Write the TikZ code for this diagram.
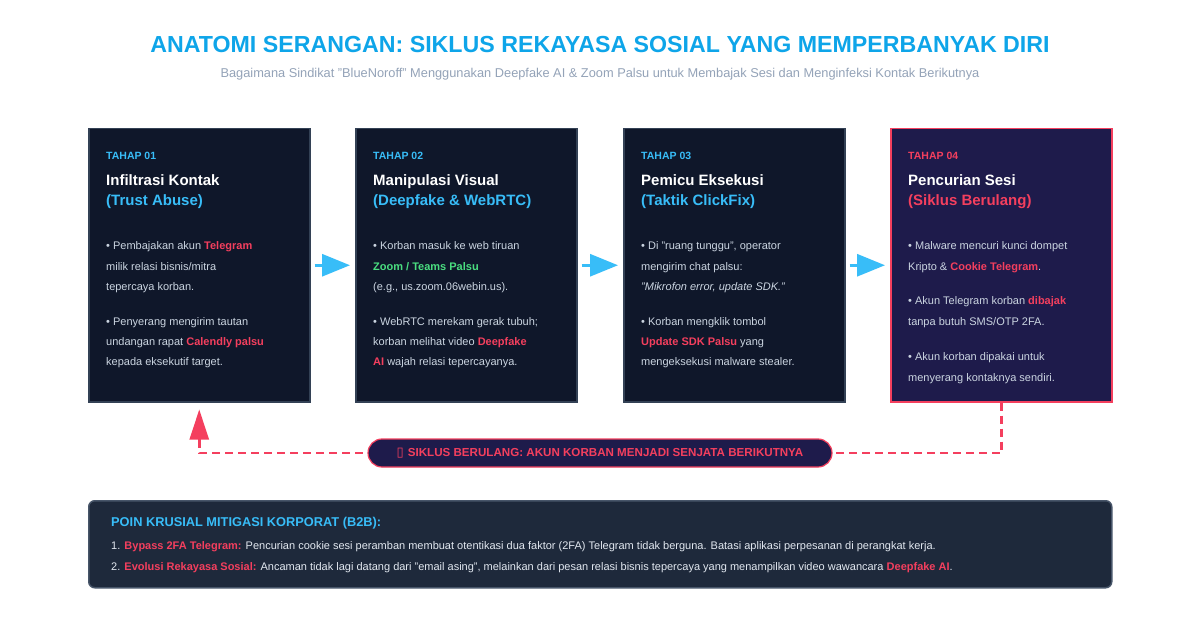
\documentclass[tikz,border=0pt]{standalone}
\usepackage{fontspec}
\setmainfont{Liberation Sans}
\newfontfamily\dejavu{DejaVu Sans}
\usetikzlibrary{arrows.meta}
\definecolor{titleblue}{HTML}{0EA5E9}
\definecolor{subgray}{HTML}{94A3B8}
\definecolor{cardbg}{HTML}{0F172A}
\definecolor{cardborder}{HTML}{334155}
\definecolor{cardfourbg}{HTML}{1E1B4B}
\definecolor{pinkc}{HTML}{F43F5E}
\definecolor{skyb}{HTML}{38BDF8}
\definecolor{greenc}{HTML}{4ADE80}
\definecolor{bodytext}{HTML}{CBD5E1}
\definecolor{mitbg}{HTML}{1E293B}
\definecolor{mitborder}{HTML}{475569}
\definecolor{mittext}{HTML}{E2E8F0}
\newcommand{\hl}[1]{\textcolor{pinkc}{\bfseries #1}}
\newcommand{\gr}[1]{\textcolor{greenc}{\bfseries #1}}
\begin{document}
\begin{tikzpicture}[x=1pt,y=-1pt,
  card/.style={draw=cardborder, fill=cardbg, line width=1.5pt, minimum width=221pt, minimum height=273pt, inner sep=0pt, anchor=north west},
  cardfour/.style={card, draw=pinkc, fill=cardfourbg},
  stage/.style={anchor=base west, inner sep=0pt, text=skyb, font=\fontsize{10.5}{12}\selectfont\bfseries},
  ttl/.style={anchor=base west, inner sep=0pt, text=white, font=\fontsize{15}{18}\selectfont\bfseries},
  subttl/.style={ttl, text=skyb},
  body/.style={anchor=base west, inner sep=0pt, text=bodytext, font=\fontsize{11}{13}\selectfont},
  flow/.style={draw=skyb, line width=3pt, -{Triangle[length=28pt,width=22pt]}, shorten <=4pt, shorten >=5pt},
  fb/.style={draw=pinkc, line width=2.5pt, dash pattern=on 8pt off 5pt},
  pill/.style={draw=pinkc, fill=cardfourbg, line width=1.2pt, rounded corners=14pt, minimum width=464pt, minimum height=28pt, inner sep=0pt, text=pinkc, font=\fontsize{11.6}{13}\selectfont\bfseries},
  mitbox/.style={draw=mitborder, fill=mitbg, line width=1.5pt, rounded corners=6pt, minimum width=1023pt, minimum height=87pt, inner sep=0pt, anchor=north west},
  mittl/.style={anchor=base west, inner sep=0pt, text=skyb, font=\fontsize{12.8}{15}\selectfont\bfseries},
  mitline/.style={anchor=base west, inner sep=0pt, text=mittext, font=\fontsize{11}{13}\selectfont}
]
\useasboundingbox[fill=white] (0,0) rectangle (1200,628);

% header
\node[inner sep=0pt, text=titleblue, font=\fontsize{23.2}{26}\selectfont\bfseries, anchor=base] (title) at (600,52.5) {ANATOMI SERANGAN: SIKLUS REKAYASA SOSIAL YANG MEMPERBANYAK DIRI};
\node[inner sep=0pt, text=subgray, font=\fontsize{12.8}{15}\selectfont, anchor=base] (subtitle) at (600,78) {Bagaimana Sindikat "BlueNoroff" Menggunakan Deepfake AI \& Zoom Palsu untuk Membajak Sesi dan Menginfeksi Kontak Berikutnya};

% cards
\node[card] (c1) at (88,128) {};
\node[card] (c2) at (355,128) {};
\node[card] (c3) at (623,128) {};
\node[cardfour] (c4) at (890,128) {};

% card 1
\node[stage] (s1) at (106,160) {TAHAP 01};
\node[ttl] (t1) at (106,186) {Infiltrasi Kontak};
\node[subttl] (u1) at (106,206) {(Trust Abuse)};
\node[body] (b1a) at (106,250) {• Pembajakan akun \hl{Telegram}};
\node[body] (b1b) at (106,270.5) {milik relasi bisnis/mitra};
\node[body] (b1c) at (106,291) {tepercaya korban.};
\node[body] (b1d) at (106,326) {• Penyerang mengirim tautan};
\node[body] (b1e) at (106,346) {undangan rapat \hl{Calendly palsu}};
\node[body] (b1f) at (106,366) {kepada eksekutif target.};

% card 2
\node[stage] (s2) at (373,160) {TAHAP 02};
\node[ttl] (t2) at (373,186) {Manipulasi Visual};
\node[subttl] (u2) at (373,206) {(Deepfake \& WebRTC)};
\node[body] (b2a) at (373,250) {• Korban masuk ke web tiruan};
\node[body] (b2b) at (373,270.5) {\gr{Zoom / Teams Palsu}};
\node[body] (b2c) at (373,291) {(e.g., us.zoom.06webin.us).};
\node[body] (b2d) at (373,326) {• WebRTC merekam gerak tubuh;};
\node[body] (b2e) at (373,346) {korban melihat video \hl{Deepfake}};
\node[body] (b2f) at (373,366) {\hl{AI} wajah relasi tepercayanya.};

% card 3
\node[stage] (s3) at (641,160) {TAHAP 03};
\node[ttl] (t3) at (641,186) {Pemicu Eksekusi};
\node[subttl] (u3) at (641,206) {(Taktik ClickFix)};
\node[body] (b3a) at (641,250) {• Di "ruang tunggu", operator};
\node[body] (b3b) at (641,270.5) {mengirim chat palsu:};
\node[body] (b3c) at (641,291) {\itshape "Mikrofon error, update SDK."};
\node[body] (b3d) at (641,326) {• Korban mengklik tombol};
\node[body] (b3e) at (641,346) {\hl{Update SDK Palsu} yang};
\node[body] (b3f) at (641,366) {mengeksekusi malware stealer.};

% card 4
\node[stage, text=pinkc] (s4) at (908,160) {TAHAP 04};
\node[ttl] (t4) at (908,186) {Pencurian Sesi};
\node[subttl, text=pinkc] (u4) at (908,206) {(Siklus Berulang)};
\node[body] (b4a) at (908,250) {• Malware mencuri kunci dompet};
\node[body] (b4b) at (908,270.5) {Kripto \& \hl{Cookie Telegram}.};
\node[body] (b4c) at (908,305) {• Akun Telegram korban \hl{dibajak}};
\node[body] (b4d) at (908,326) {tanpa butuh SMS/OTP 2FA.};
\node[body] (b4e) at (908,361) {• Akun korban dipakai untuk};
\node[body] (b4f) at (908,381.5) {menyerang kontaknya sendiri.};

% flow arrows
\draw[flow] (c1.east) -- (c2.west);
\draw[flow] (c2.east) -- (c3.west);
\draw[flow] (c3.east) -- (c4.west);

% feedback loop
\coordinate (lpc) at (600,453);
\draw[fb] (c4.south) -- (c4.south |- lpc) -- (c1.south |- lpc) -- ([yshift=-37pt]c1.south);
\draw[pinkc, line width=2.5pt, -{Triangle[length=30pt,width=19pt]}, shorten >=7pt] ([yshift=-38pt]c1.south) -- (c1.south);
\node[pill] (loop) at (lpc) {{\dejavu\fontsize{13}{14}\selectfont\raisebox{-0.5pt}{▯}}\hspace{4pt}SIKLUS BERULANG: AKUN KORBAN MENJADI SENJATA BERIKUTNYA};

% mitigation box
\node[mitbox] (mit) at (88,500) {};
\node[mittl] (mt) at (111,526) {POIN KRUSIAL MITIGASI KORPORAT (B2B):};
\node[mitline] (m1) at (111,549) {1. \hl{Bypass 2FA Telegram:} Pencurian cookie sesi peramban membuat otentikasi dua faktor (2FA) Telegram tidak berguna. Batasi aplikasi perpesanan di perangkat kerja.};
\node[mitline] (m2) at (111,570) {2. \hl{Evolusi Rekayasa Sosial:} Ancaman tidak lagi datang dari "email asing", melainkan dari pesan relasi bisnis tepercaya yang menampilkan video wawancara \hl{Deepfake AI}.};
\end{tikzpicture}
\end{document}
